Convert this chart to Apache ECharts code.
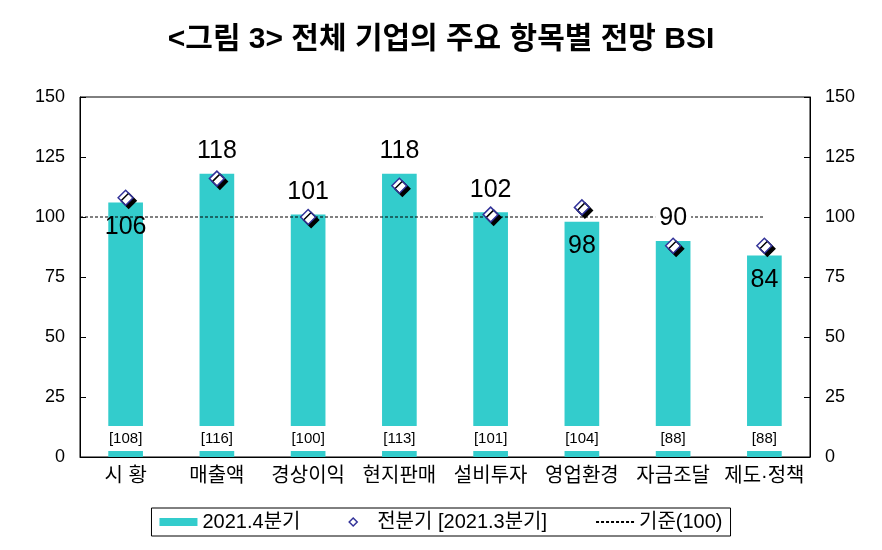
<!DOCTYPE html>
<html>
<head>
<meta charset="utf-8">
<script src="https://cdn.jsdelivr.net/npm/echarts@6/dist/echarts.min.js"></script>
<style>
html, body { margin: 0; padding: 0; background: #fff; }
#chart { width: 882px; height: 550px; }
</style>
</head>
<body>
<div id="chart"></div>
<script>
var categories = ['시 황', '매출액', '경상이익', '현지판매', '설비투자', '영업환경', '자금조달', '제도·정책'];
var current = [106, 118, 101, 118, 102, 98, 90, 84];      // 2021.4분기
var previous = [108, 116, 100, 113, 101, 104, 88, 88];    // 전분기 [2021.3분기]
var labelInside = [true, false, false, false, false, true, false, true];
var baseline = 100;

var font = 'Liberation Sans, Noto Sans CJK KR, sans-serif';
var chart = echarts.init(document.getElementById('chart'));

var valueLabels = current.map(function (v, i) {
    return {
        value: v,
        label: {
            position: labelInside[i] ? 'insideTop' : 'top',
            distance: labelInside[i] ? 12 : 10,
            backgroundColor: labelInside[i] ? 'transparent' : '#fff',
            padding: [0, 4]
        }
    };
});

var option = {
    animation: false,
    backgroundColor: '#fff',
    title: {
        text: '<그림 3> 전체 기업의 주요 항목별 전망 BSI',
        left: 'center',
        top: 20,
        textStyle: {
            fontFamily: font,
            fontSize: 30,
            fontWeight: 'bold',
            color: '#000'
        }
    },
    legend: {
        bottom: 14,
        left: 'center',
        borderColor: '#000',
        borderWidth: 1,
        borderRadius: 0,
        padding: [4, 8],
        itemGap: 48,
        itemWidth: 38,
        itemHeight: 8,
        textStyle: { fontFamily: font, fontSize: 20, color: '#000' },
        data: [
            { name: '2021.4분기', icon: 'rect', itemStyle: { color: '#33cccc' } },
            { name: '전분기 [2021.3분기]', icon: 'path://M5,0L10,5L5,10L0,5Z',
              itemStyle: { color: '#fff', borderColor: '#333399', borderWidth: 1.5, shadowBlur: 0, shadowOffsetX: 0, shadowOffsetY: 0 } },
            { name: '기준(100)' }
        ]
    },
    grid: {
        left: 80,
        right: 72,
        top: 97,
        bottom: 93,
        show: true,
        borderColor: '#000',
        borderWidth: 1,
        containLabel: false
    },
    xAxis: [{
        type: 'category',
        data: categories,
        axisLine: { lineStyle: { color: '#000' } },
        axisTick: { inside: true, length: 6, lineStyle: { color: '#000' } },
        axisLabel: { fontFamily: font, fontSize: 20, color: '#000', margin: 9, interval: 0 }
    }, {
        type: 'value',
        min: 0,
        max: 8,
        show: false
    }],
    yAxis: [{
        type: 'value',
        min: 0,
        max: 150,
        interval: 25,
        position: 'left',
        splitLine: { show: false },
        axisLine: { show: true, lineStyle: { color: '#000' } },
        axisTick: { show: true, inside: true, length: 6, lineStyle: { color: '#000' } },
        axisLabel: { fontFamily: font, fontSize: 18, color: '#000', margin: 15 }
    }, {
        type: 'value',
        min: 0,
        max: 150,
        interval: 25,
        position: 'right',
        splitLine: { show: false },
        axisLine: { show: true, lineStyle: { color: '#000' } },
        axisTick: { show: true, inside: true, length: 6, lineStyle: { color: '#000' } },
        axisLabel: { fontFamily: font, fontSize: 18, color: '#000', margin: 15 }
    }],
    series: [
        {
            name: '2021.4분기',
            type: 'bar',
            data: current,
            barWidth: '38%',
            itemStyle: { color: '#33cccc' },
            label: {
                show: true,
                position: 'insideBottom',
                distance: 6,
                formatter: function (p) { return '[' + previous[p.dataIndex] + ']'; },
                fontFamily: font,
                fontSize: 15,
                color: '#000',
                backgroundColor: '#fff',
                width: 46,
                align: 'center',
                lineHeight: 15,
                padding: [5, 0]
            },
            z: 2
        },
        {
            name: 'values',
            type: 'bar',
            data: valueLabels,
            barWidth: '38%',
            barGap: '-100%',
            itemStyle: { color: 'rgba(0,0,0,0)' },
            label: {
                show: true,
                fontFamily: font,
                fontSize: 25,
                color: '#000'
            },
            z: 4
        },
        {
            name: '전분기 [2021.3분기]',
            type: 'scatter',
            data: previous,
            symbol: 'diamond',
            symbolSize: 15,
            itemStyle: {
                color: '#fff',
                borderColor: '#333399',
                borderWidth: 1.5,
                shadowColor: '#000',
                shadowBlur: 0,
                shadowOffsetX: 3,
                shadowOffsetY: 3,
                opacity: 1
            },
            z: 5
        },
        {
            name: '기준(100)',
            type: 'line',
            xAxisIndex: 1,
            data: [[0, baseline], [7.5, baseline]],
            symbol: 'none',
            lineStyle: { color: '#000', width: 1, type: [3, 2] },
            itemStyle: { color: 'rgba(0,0,0,0)', borderColor: 'rgba(0,0,0,0)' },
            z: 3
        }
    ]
};
chart.setOption(option);
</script>
</body>
</html>
